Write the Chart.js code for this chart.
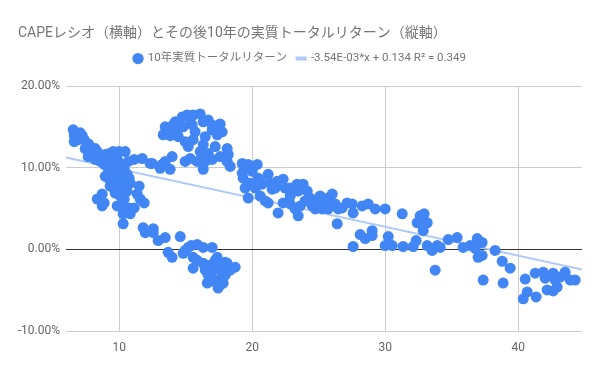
<!DOCTYPE html>
<html>
<head>
<meta charset="utf-8">
<script src="https://cdn.jsdelivr.net/npm/chart.js@4/dist/chart.umd.min.js"></script>
<style>
  body { margin: 0; background: #fff; }
  #wrap { width: 600px; height: 371px; position: relative; }
</style>
</head>
<body>
<div id="wrap"><canvas id="chart"></canvas></div>
<script>
var cape = [
    6.54, 6.62, 6.62, 7.07, 7.22, 7.37, 7.67, 7.82, 7.67, 7.97, 8.20, 8.35, 8.50, 8.72, 8.95, 9.25,
    8.87, 9.10, 9.32, 8.95, 9.25, 9.47, 9.32, 9.62, 9.70, 9.85, 10.08, 10.45, 10.38, 10.60, 10.75, 11.13,
    11.73, 12.33, 10.83, 11.50, 11.35, 11.58, 11.88, 8.35, 8.72, 8.72, 8.87, 9.85, 10.38, 10.38, 10.75, 11.13,
    10.30, 10.83, 10.30, 11.80, 12.56, 9.02, 9.47, 9.70, 9.55, 9.92, 9.17, 10.08, 9.77, 10.23, 9.62, 8.57,
    8.20, 10.00, 9.55, 10.68, 10.60, 10.08, 7.44, 6.92, 13.08, 13.23,
    11.96, 12.56, 12.93, 13.46, 14.59, 13.68, 13.98, 14.81, 15.19, 15.41, 15.86, 16.32, 16.99, 15.56, 15.86, 15.56,
    16.32, 16.47, 16.69, 16.99, 17.37, 17.44, 17.59, 17.74, 17.59, 17.44, 17.82, 17.97, 18.35, 18.72, 17.07, 17.22,
    18.12, 16.84, 17.22, 16.62, 17.97, 14.96,
    13.46, 13.31, 13.68, 14.06, 14.36, 14.74, 15.11, 15.34, 15.49, 15.56, 16.09, 16.32, 16.69, 16.99, 17.22, 17.59,
    17.74, 17.37, 16.99, 14.81, 14.96, 15.19, 15.56, 16.32, 16.09, 16.32, 16.69, 17.22, 18.12, 18.20, 18.35, 17.59,
    16.99, 16.47, 16.32, 15.86, 15.34, 14.96, 13.98, 13.46, 13.83, 12.48, 19.25, 19.32, 14.21, 14.44, 15.71, 16.47,
    18.12, 13.83,
    19.70, 20.38, 19.25, 19.47, 19.85, 19.70, 20.45, 20.75, 21.20, 21.35, 21.50, 20.60, 20.98, 21.20, 21.73, 22.33,
    22.48, 22.86, 23.38, 23.83, 24.14, 23.46, 22.33, 22.86, 21.95, 23.23, 23.46, 24.36, 24.74, 24.96, 25.26, 25.49,
    25.71, 26.02, 26.24, 26.47, 26.77, 24.74, 25.26, 25.71, 26.39, 20.23, 20.60, 21.88, 23.61, 24.51, 23.98, 19.40,
    20.00, 22.86, 25.11,
    27.14, 27.52, 27.59, 28.27, 28.72, 29.25, 30.00, 31.28, 28.12, 28.50, 29.02, 29.02, 27.59, 30.00, 30.23, 30.53,
    31.35, 32.11, 32.33, 32.63, 32.93, 32.41, 33.16, 32.86, 33.16, 33.53, 33.76, 33.91, 34.14, 34.74, 35.41, 35.86,
    36.39, 36.92, 37.29, 36.77, 36.99, 37.29, 37.37, 38.27, 38.80, 39.40, 38.87, 40.53, 40.68, 40.38, 41.35, 41.28,
    41.88, 42.03, 42.18, 42.63, 42.78, 42.93, 42.63, 43.16, 43.53, 43.91, 44.29
];
var realReturn = [
    .1467, .1394, .1321, .1430, .1394, .1345, .1297, .1261, .1139, .1200, .1236, .1200, .1139, .1103, .1164, .1176,
    .1042, .1018, .0982, .0897, .0861, .0812, .0776, .0752, .0691, .1103, .1055, .1200, .0982, .0921, .0873, .1103,
    .1115, .1055, .0812, .0776, .0679, .0618, .0570, .0618, .0679, .0533, .0570, .0533, .0618, .0497, .0509, .0509,
    .0436, .0436, .0315, .0267, .0255, .1079, .1079, .1018, .0933, .0958, .0933, .0836, .0861, .0776, .1103, .1079,
    .1103, .1200, .1200, .1079, .0715, .0655, .1236, .1345, .0994, .1042,
    .0206, .0206, .0109, .0145, .0158, -.0036, -.0097, -.0048, .0024, .0048, .0061, .0024, .0024, -.0097, -.0133, -.0230,
    -.0170, -.0255, -.0315, -.0352, -.0097, -.0170, -.0255, -.0339, -.0436, -.0473, -.0412, -.0158, -.0255, -.0218, -.0255, -.0400,
    -.0170, -.0194, -.0133, -.0412, -.0315, -.0012,
    .1503, .1406, .1467, .1527, .1442, .1624, .1648, .1600, .1527, .1648, .1661, .1564, .1588, .1527, .1467, .1539,
    .1442, .1406, .1467, .1503, .1321, .1261, .1345, .1285, .1200, .1139, .1176, .1261, .1236, .1164, .1018, .1139,
    .1103, .1079, .0982, .1079, .1115, .1079, .1139, .1079, .0982, .1055, .1055, .0873, .1564, .1382, .1442, .1382,
    .1079, .1394,
    .1042, .1042, .0933, .0752, .0812, .0630, .0873, .0800, .0921, .0812, .0739, .0655, .0594, .0570, .0752, .0861,
    .0752, .0752, .0800, .0800, .0715, .0715, .0570, .0558, .0448, .0497, .0412, .0630, .0594, .0558, .0618, .0570,
    .0630, .0679, .0558, .0497, .0509, .0497, .0497, .0497, .0315, .0752, .0836, .0836, .0533, .0533, .0594, .0994,
    .0958, .0655, .0655,
    .0570, .0558, .0448, .0533, .0558, .0497, .0497, .0436, .0182, .0133, .0230, .0170, .0036, .0048, .0158, .0048,
    .0036, .0036, .0109, .0412, .0436, .0327, .0327, .0230, .0048, -.0012, -.0255, .0048, .0024, .0121, .0145, .0024,
    .0048, .0133, .0085, .0012, -.0097, -.0073, -.0376, -.0012, -.0145, -.0230, -.0412, -.0364, -.0521, -.0606, -.0582, -.0291,
    -.0279, -.0352, -.0497, -.0291, -.0376, -.0461, -.0509, -.0339, -.0279, -.0376, -.0376
];
// linear trendline end points (legend: -3.54E-03*x + 0.134)
var trendX = [6.0, 44.8];
var trendY = [0.1128, -0.0246];
var xTicks = [10, 20, 30, 40];
var yTicks = [-0.1, 0, 0.1, 0.2];

var FONT = "Roboto, 'Noto Sans CJK JP', sans-serif";

var points = cape.map(function(c, i) { return { x: c, y: realReturn[i] }; });
var trend = trendX.map(function(t, i) { return { x: t, y: trendY[i] }; });

// extra space under the legend, before the plot
var legendGap = {
    id: 'legendGap',
    beforeInit: function(chart) {
        var fit = chart.legend.fit;
        chart.legend.fit = function() {
            fit.call(this);
            this.height += 12;
        };
    }
};

new Chart(document.getElementById('chart'), {
    type: 'scatter',
    plugins: [legendGap],
    data: {
        datasets: [{
            label: '10年実質トータルリターン',
            data: points,
            backgroundColor: '#4285F4',
            borderWidth: 0,
            pointRadius: 5.5,
            pointHoverRadius: 5.5,
            pointStyle: 'circle',
            order: 0
        }, {
            type: 'line',
            label: '-3.54E-03*x + 0.134 R² = 0.349',
            data: trend,
            borderColor: '#AFC9F8',
            backgroundColor: '#AFC9F8',
            borderWidth: 2,
            pointRadius: 0,
            pointStyle: 'line',
            order: 1
        }]
    },
    options: {
        responsive: true,
        maintainAspectRatio: false,
        animation: false,
        events: [],
        layout: { padding: { left: 18, right: 18, top: 0, bottom: 0 } },
        plugins: {
            tooltip: { enabled: false },
            title: {
                display: true,
                text: 'CAPEレシオ（横軸）とその後10年の実質トータルリターン（縦軸）',
                align: 'start',
                color: '#757575',
                font: { family: FONT, size: 14, weight: 'normal' },
                padding: { top: 25, bottom: 1 }
            },
            legend: {
                display: true,
                position: 'top',
                labels: {
                    usePointStyle: true,
                    boxWidth: 8,
                    boxHeight: 8,
                    padding: 10,
                    color: '#757575',
                    font: { family: FONT, size: 11.5 },
                    generateLabels: function(chart) {
                        var items = Chart.defaults.plugins.legend.labels.generateLabels(chart);
                        items.forEach(function(it) {
                            if (it.datasetIndex === 1) { it.lineWidth = 4; it.strokeStyle = '#AFC9F8'; }
                        });
                        return items;
                    }
                }
            }
        },
        scales: {
            x: {
                type: 'linear',
                min: 6.0,
                max: 44.8,
                afterBuildTicks: function(scale) {
                    scale.ticks = xTicks.map(function(v) { return { value: v }; });
                },
                afterFit: function(scale) { scale.height = 40; },
                grid: { color: '#cccccc', drawTicks: false },
                border: { display: false },
                ticks: { color: '#666', padding: 10, font: { family: FONT, size: 12 } }
            },
            y: {
                min: -0.1,
                max: 0.2,
                afterBuildTicks: function(scale) {
                    scale.ticks = yTicks.map(function(v) { return { value: v }; });
                },
                afterFit: function(scale) { scale.width = 48; },
                grid: {
                    color: function(ctx) { return ctx.tick && ctx.tick.value === 0 ? '#333333' : '#cccccc'; },
                    drawTicks: false
                },
                border: { display: false },
                ticks: {
                    color: '#666',
                    padding: 6,
                    font: { family: FONT, size: 12 },
                    callback: function(v) { return (v * 100).toFixed(2) + '%'; }
                }
            }
        }
    }
});
</script>
</body>
</html>
